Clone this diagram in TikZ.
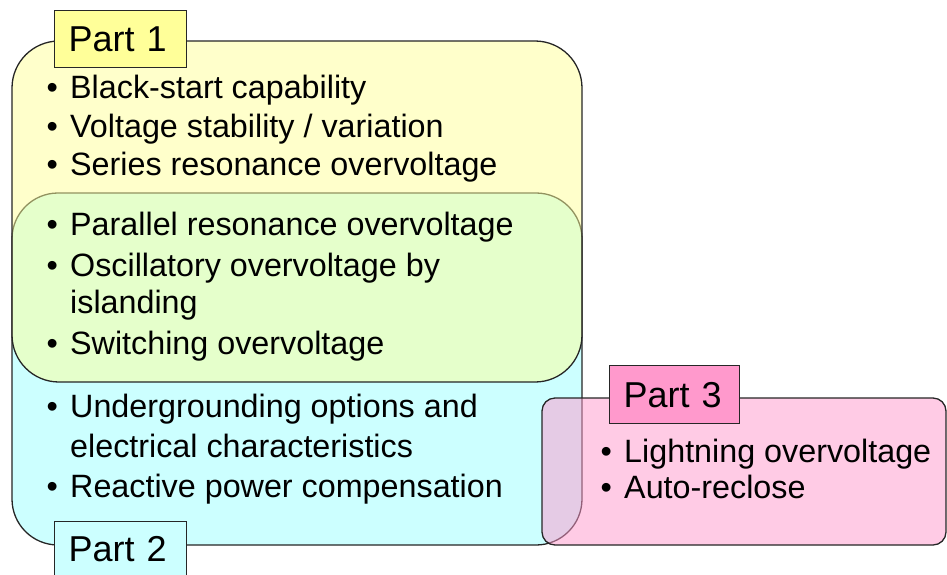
\documentclass[tikz,border=0pt]{standalone}
\usepackage{fontspec}
\setmainfont{Liberation Sans}
\definecolor{pyel}{HTML}{FFFF99}
\definecolor{pcyan}{HTML}{CCFFFF}
\definecolor{ppink}{HTML}{FF99CC}
\definecolor{edgec}{HTML}{262626}
\tikzset{
  region/.style={draw=edgec, line width=1.3pt},
  tagbox/.style={draw=edgec, line width=1.3pt, inner xsep=14pt, inner ysep=0pt,
    anchor=north west, align=left, font=\fontsize{36}{40}\selectfont},
  itemtext/.style={anchor=base west, inner sep=0pt, font=\fontsize{32.3}{38}\selectfont},
  bulletmark/.style={anchor=base west, inner sep=0pt, font=\fontsize{32.3}{38}\selectfont},
}
\newcommand\bitem[4]{%
  \node[bulletmark] (#1b) at (#2-23.6,#3) {•};
  \node[itemtext] (#1) at (#2,#3) {#4};}
\newcommand\citem[4]{%
  \node[itemtext] (#1) at (#2,#3) {#4};}
\begin{document}
\begin{tikzpicture}[x=1pt,y=-1pt]
\clip (0,0) rectangle (947,574);
\fill[white] (0,0) rectangle (947,574);
% Part 2 region (bottom layer)
\draw[region, fill=pcyan, rounded corners=46pt] (12,193) rectangle (582,545);
% Part 1 region (semi-transparent)
\draw[region, fill=pyel, fill opacity=0.5, rounded corners=47pt] (12,41) rectangle (582,382);
% Part 3 region (semi-transparent)
\draw[region, fill=ppink, fill opacity=0.5, rounded corners=13pt] (542,398) rectangle (946,545);
% Tags
\node[tagbox, fill=pyel, text width=104pt, minimum height=57pt] (tag1) at (54,10) {Part 1};
\node[tagbox, fill=pcyan, text width=104pt, minimum height=55pt] (tag2) at (54,521) {Part 2};
\node[tagbox, fill=ppink, text width=102pt, minimum height=58pt] (tag3) at (609,365) {Part 3};
% Part 1 items
\bitem{a1}{70}{98}{Black-start capability}
\bitem{a2}{70}{137}{Voltage stability / variation}
\bitem{a3}{70}{175}{Series resonance overvoltage}
% Shared items
\bitem{g1}{70}{235}{Parallel resonance overvoltage}
\bitem{g2}{70}{276}{Oscillatory overvoltage by}
\citem{g2c}{70}{313}{islanding}
\bitem{g3}{70}{354}{Switching overvoltage}
% Part 2 items
\bitem{c1}{70}{417}{Undergrounding options and}
\citem{c1c}{70}{457}{electrical characteristics}
\bitem{c2}{70}{497}{Reactive power compensation}
% Part 3 items
\bitem{p1}{624}{462}{Lightning overvoltage}
\bitem{p2}{624}{498}{Auto-reclose}
\end{tikzpicture}
\end{document}
